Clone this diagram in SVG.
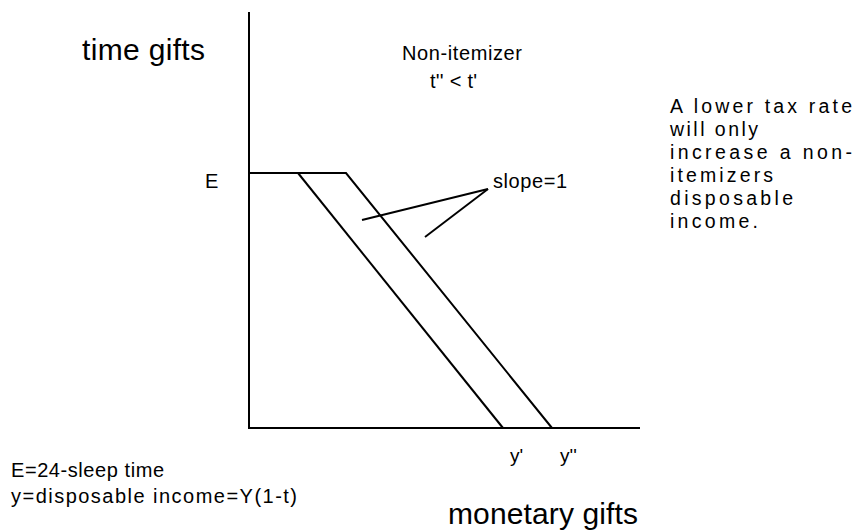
<svg xmlns="http://www.w3.org/2000/svg" width="855" height="532" viewBox="0 0 855 532">
<style>
  .t { font-family: "Liberation Sans", Arial, sans-serif; fill: #000; }
  .ln { stroke: #000; stroke-width: 2; fill: none; stroke-linecap: butt; }
</style>
<rect width="855" height="532" fill="#fff"/>
<g id="axes">
  <line class="ln" x1="249" y1="12" x2="249" y2="429"/>
  <line class="ln" x1="248" y1="428" x2="640" y2="428"/>
</g>
<g id="connectors">
  <polyline class="ln" points="249,173 346,173 552,428"/>
  <line class="ln" x1="298" y1="173" x2="503" y2="428"/>
  <line class="ln" x1="488" y1="189" x2="362" y2="220"/>
  <line class="ln" x1="488" y1="189" x2="425" y2="237"/>
</g>
<g id="label-time-gifts"><text class="t" x="82" y="60" font-size="30" textLength="123" lengthAdjust="spacing">time gifts</text></g>
<g id="label-non-itemizer">
  <text class="t" x="402" y="60" font-size="20" textLength="120" lengthAdjust="spacing">Non-itemizer</text>
  <text class="t" x="430" y="88" font-size="20" textLength="47" lengthAdjust="spacing">t'' &lt; t'</text>
</g>
<g id="label-E"><text class="t" x="205" y="188" font-size="20">E</text></g>
<g id="label-slope"><text class="t" x="493" y="188" font-size="20" textLength="74" lengthAdjust="spacing">slope=1</text></g>
<g id="label-note">
  <text class="t" x="670" y="113" font-size="19.5" textLength="182" lengthAdjust="spacing">A lower tax rate</text>
  <text class="t" x="670" y="136" font-size="19.5" textLength="88" lengthAdjust="spacing">will only</text>
  <text class="t" x="670" y="159" font-size="19.5" textLength="182" lengthAdjust="spacing">increase a non-</text>
  <text class="t" x="670" y="182" font-size="19.5" textLength="103" lengthAdjust="spacing">itemizers</text>
  <text class="t" x="670" y="205" font-size="19.5" textLength="123" lengthAdjust="spacing">disposable</text>
  <text class="t" x="670" y="228" font-size="19.5" textLength="88" lengthAdjust="spacing">income.</text>
</g>
<g id="label-y1"><text class="t" x="510" y="462" font-size="19">y'</text></g>
<g id="label-y2"><text class="t" x="560" y="462" font-size="19">y''</text></g>
<g id="label-legend">
  <text class="t" x="11" y="477" font-size="20" textLength="153" lengthAdjust="spacing">E=24-sleep time</text>
  <text class="t" x="11" y="503" font-size="20" textLength="286" lengthAdjust="spacing">y=disposable income=Y(1-t)</text>
</g>
<g id="label-monetary"><text class="t" x="448" y="524" font-size="30" textLength="190" lengthAdjust="spacing">monetary gifts</text></g>
</svg>
